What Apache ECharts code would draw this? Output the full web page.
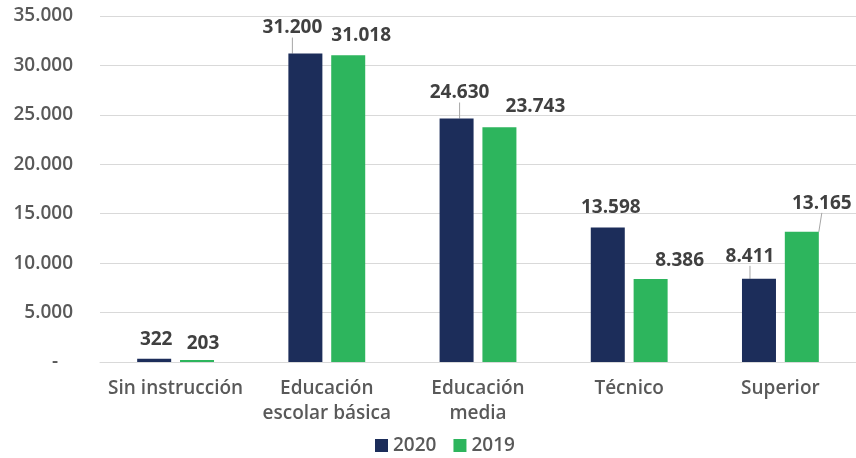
<!DOCTYPE html>
<html><head><meta charset="utf-8">
<script src="https://cdn.jsdelivr.net/npm/echarts@6/dist/echarts.min.js"></script>
<style>html,body{margin:0;padding:0;background:#fff}#c{width:856px;height:458px}</style>
</head><body><div id="c"></div>
<script>
const categories = ['Sin instrucción', 'Educación\nescolar básica', 'Educación\nmedia', 'Técnico', 'Superior'];
const values2020 = [322, 31200, 24630, 13598, 8411];
const values2019 = [203, 31018, 23743, 8386, 13165];
const yTicks = [0, 5000, 10000, 15000, 20000, 25000, 30000, 35000];

// label displacement (Excel-style manually placed labels)
const off2020 = [[2,-5,false],[-13,-11,true],[3,-11,true],[3,-5,false],[-9,-8,true]];
const off2019 = [[6,-2,false],[13,-5,false],[36,-6,false],[29,-4,false],[20,-14,true]];

const fmt = v => v === 0 ? '-   ' : v.toLocaleString('de-DE');
const FONT = '"Open Sans", sans-serif';

function mk(vals, offs){
  return vals.map((v,i)=>({value:v, labelLine:{show:offs[i][2]}}));
}
const chart = echarts.init(document.getElementById('c'), null, {renderer:'canvas'});
chart.setOption({
  animation:false,
  textStyle:{fontFamily:FONT},
  grid:{left:100, right:-1, top:16, bottom:96, containLabel:false},
  legend:{bottom:-2, left:370, itemWidth:13, itemHeight:13, itemGap:17,
    icon:'rect', textStyle:{fontSize:19, color:'#595959', fontFamily:FONT, fontWeight:600}},
  xAxis:{type:'category', data:categories,
    axisLine:{lineStyle:{color:'#D9D9D9', width:1}}, axisTick:{show:false},
    axisLabel:{fontSize:19, color:'#595959', fontFamily:FONT, fontWeight:600, lineHeight:25, margin:14, interval:0}},
  yAxis:{type:'value', min:0, max:35000, interval:5000,
    axisLine:{show:false}, axisTick:{show:false},
    splitLine:{lineStyle:{color:'#D9D9D9', width:1}},
    axisLabel:{formatter:fmt, fontSize:19, color:'#595959', fontFamily:FONT, fontWeight:600, margin:27}},
  series:[
    {name:'2020', type:'bar', data:mk(values2020, off2020), barWidth:34, barGap:'26%',
     itemStyle:{color:'#1C2D5A'},
     label:{show:true, position:'top', distance:5, formatter:p=>fmt(p.value), fontSize:19, fontWeight:'bold', color:'#404040', fontFamily:FONT},
     labelLine:{lineStyle:{color:'#A6A6A6', width:1}},
     labelLayout:p=>({dx:off2020[p.dataIndex][0], dy:off2020[p.dataIndex][1]})},
    {name:'2019', type:'bar', data:mk(values2019, off2019), barWidth:34,
     itemStyle:{color:'#2DB55D'},
     label:{show:true, position:'top', distance:5, formatter:p=>fmt(p.value), fontSize:19, fontWeight:'bold', color:'#404040', fontFamily:FONT},
     labelLine:{lineStyle:{color:'#A6A6A6', width:1}},
     labelLayout:p=>({dx:off2019[p.dataIndex][0], dy:off2019[p.dataIndex][1]})}
  ]
});
</script></body></html>
